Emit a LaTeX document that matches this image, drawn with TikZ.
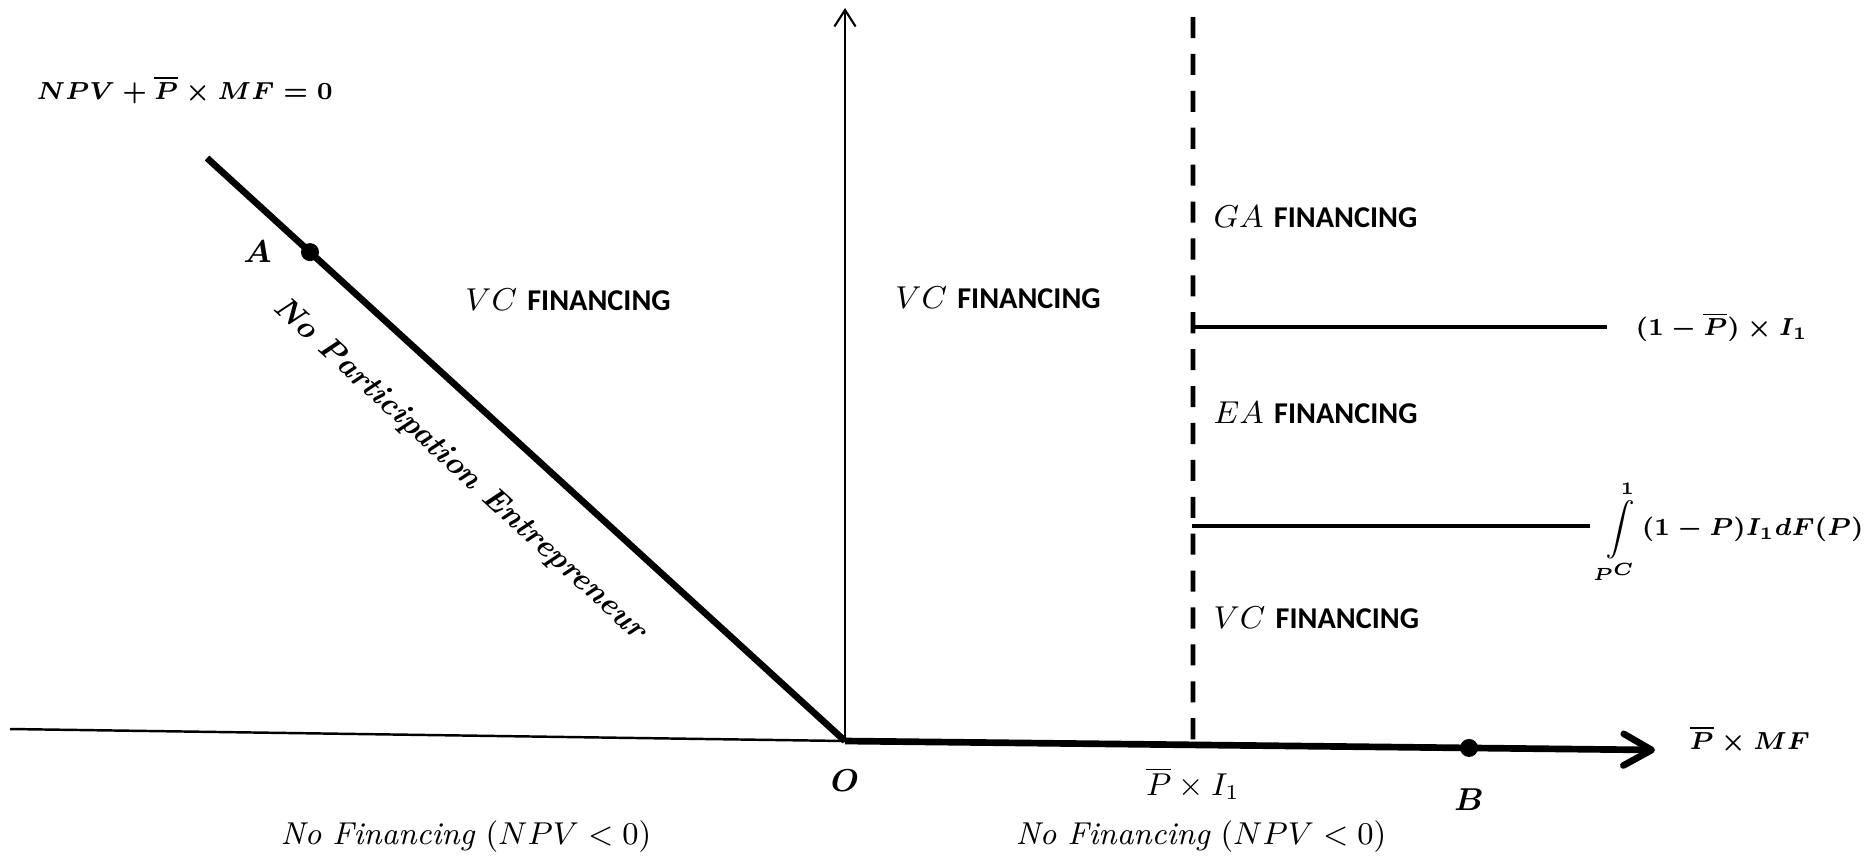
\documentclass[tikz,border=0pt]{standalone}
\usepackage{fontspec}
\usepackage{amsmath}
\newfontfamily\calfont{Carlito}
\usetikzlibrary{arrows.meta}
\usetikzlibrary{calc}
\usetikzlibrary{positioning}

\begin{document}
\begin{tikzpicture}[lbl/.style={inner sep=0pt,font=\fontsize{9}{11}\selectfont},
    blbl/.style={inner sep=0pt,font=\fontsize{7.5}{9}\selectfont\boldmath},
    ptlbl/.style={inner sep=0pt,font=\fontsize{9}{11}\selectfont\boldmath},
    dot/.style={circle,fill,inner sep=0pt,minimum size=0.18cm},
    fin/.style={inner sep=0pt,font=\fontsize{8.6}{10}\selectfont}]
    \useasboundingbox (0,0) rectangle (18.74,8.56);
    % axes
    \coordinate (orig) at (8.45,1.15);
    \coordinate (xleft) at (0.10,1.27);
    \coordinate (xend) at (16.55,1.06);
    \coordinate (ytop) at (8.45,8.48);
    \coordinate (dtop) at (2.07,6.98);
    \draw[line width=0.7pt] (xleft) -- (orig);
    \draw[line width=0.6pt,-{Straight Barb[length=4.7pt,width=6pt]}] (orig) -- (ytop);
    \draw[line width=1.9pt,-{Straight Barb[length=8pt,width=9pt,line cap=round,line join=round]}] (orig) -- (xend);
    \draw[line width=1.9pt] (dtop) -- (orig);
    % threshold and levels
    \coordinate (vtop) at (11.93,8.39);
    \coordinate (vbot) at ($(orig)!0.4296!(xend)$);
    \draw[line width=1.4pt,dash pattern=on 6pt off 4.5pt] (vtop) -- (vbot);
    \coordinate (h1a) at (11.93,5.29);
    \coordinate (h1b) at (16.07,5.29);
    \coordinate (h2a) at (11.92,3.30);
    \coordinate (h2b) at (15.90,3.30);
    \draw[line width=1.2pt] (h1a) -- (h1b);
    \draw[line width=1.2pt] (h2a) -- (h2b);
    % points
    \node[dot] (A) at ($(orig)!0.8386!(dtop)$) {};
    \node[dot] (B) at ($(orig)!0.7704!(xend)$) {};
    \node[ptlbl,left=0.28cm of A] (alb) {$A$};
    \node[ptlbl,below=0.3cm of B] (blb) {$B$};
    \node[ptlbl,below=0.28cm of orig] (olb) {$O$};
    \node[lbl,below=0.22cm of vbot] (pilb) {$\overline{P}\times I_1$};
    \node[blbl,right=0.34cm of xend,yshift=0.1cm] (xlb) {$\overline{P}\times MF$};
    \node[blbl,anchor=west] (eq) at (0.36,7.66) {$NPV+\overline{P}\times MF=0$};
    \node[blbl,right=0.28cm of h1b] (h1lb) {$(1-\overline{P})\times I_1$};
    \node[blbl,right=0.09cm of h2b,yshift=-0.06cm] (h2lb) {$\displaystyle\int\limits_{P^C}^{1}(1-P)I_1dF(P)$};
    % regions
    \node[lbl,rotate=-42.4] (npe) at (4.60,3.86) {\textbf{\textit{No Participation Entrepreneur}}};
    \node[fin] (vc1) at (5.68,5.56) {$VC$ {\calfont\bfseries FINANCING}};
    \node[fin] (vc2) at (9.98,5.58) {$VC$ {\calfont\bfseries FINANCING}};
    \node[fin,anchor=west] (ga) at (12.13,6.39) {$GA$ {\calfont\bfseries FINANCING}};
    \node[fin,anchor=west] (ea) at (12.13,4.43) {$EA$ {\calfont\bfseries FINANCING}};
    \node[fin,anchor=west] (vc3) at (12.13,2.38) {$VC$ {\calfont\bfseries FINANCING}};
    \node[lbl] (nf1) at (4.66,0.19) {$\mathit{No\ Financing}\ (NPV<0)$};
    \node[lbl] (nf2) at (12.01,0.19) {$\mathit{No\ Financing}\ (NPV<0)$};
\end{tikzpicture}
\end{document}
